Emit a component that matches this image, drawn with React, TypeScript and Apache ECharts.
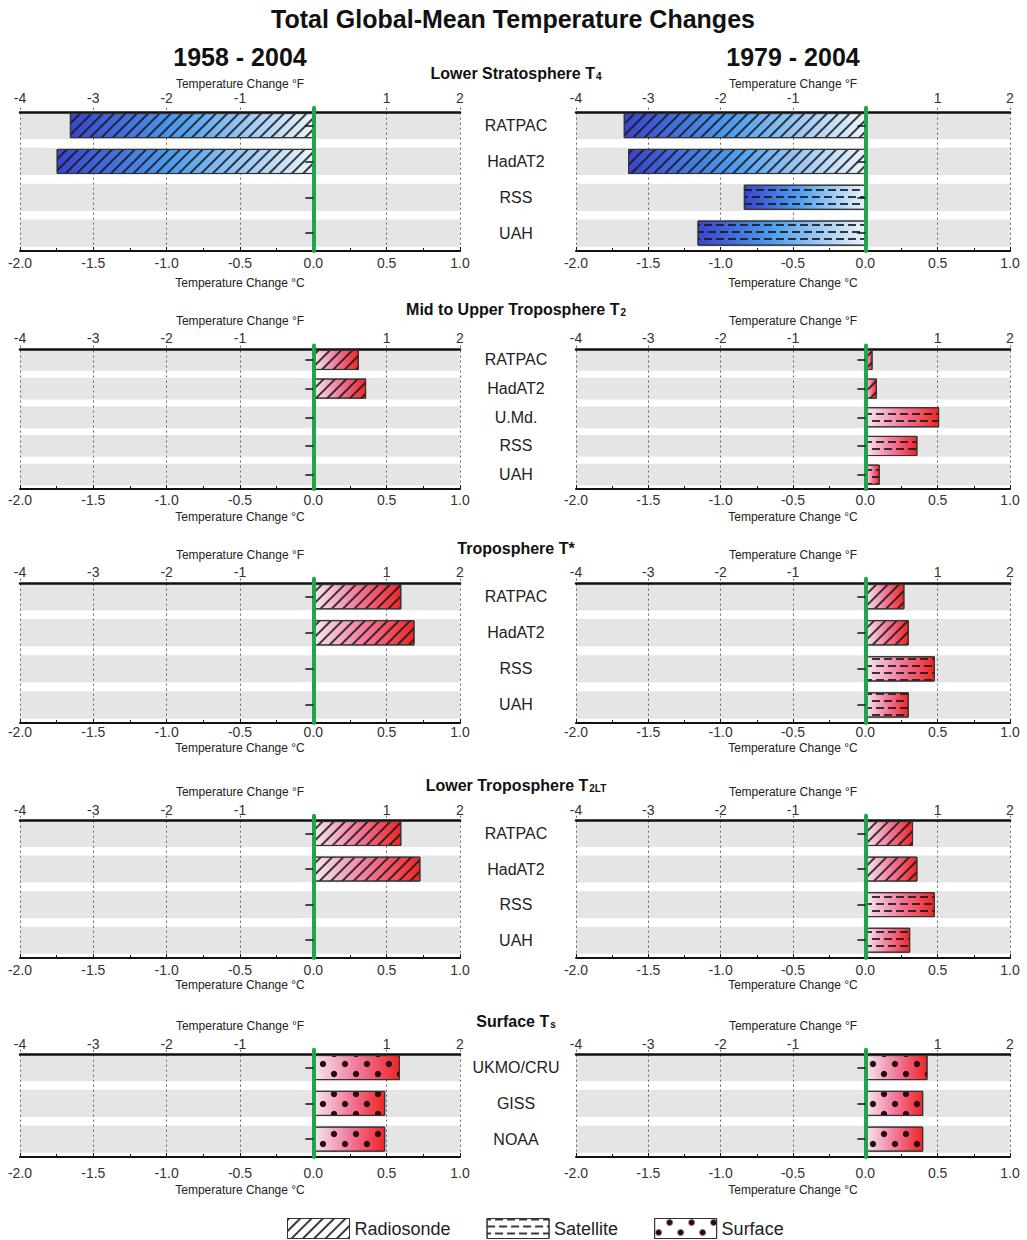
import React, { useEffect, useRef } from "react";
import * as echarts from "echarts";

// ---------- data ----------
const catsT4 = ["RATPAC", "HadAT2", "RSS", "UAH"];
const catsT2 = ["RATPAC", "HadAT2", "U.Md.", "RSS", "UAH"];
const catsTstar = ["RATPAC", "HadAT2", "RSS", "UAH"];
const catsT2LT = ["RATPAC", "HadAT2", "RSS", "UAH"];
const catsTs = ["UKMO/CRU", "GISS", "NOAA"];

const t4_1958 = [-1.66, -1.75, null, null];
const t4_1979 = [-1.67, -1.64, -0.84, -1.16];
const t2_1958 = [0.31, 0.36, null, null, null];
const t2_1979 = [0.05, 0.08, 0.51, 0.36, 0.1];
const tstar_1958 = [0.6, 0.69, null, null];
const tstar_1979 = [0.27, 0.3, 0.48, 0.3];
const t2lt_1958 = [0.6, 0.73, null, null];
const t2lt_1979 = [0.33, 0.36, 0.48, 0.31];
const ts_1958 = [0.59, 0.49, 0.49];
const ts_1979 = [0.43, 0.4, 0.4];

const sourceTypes = ["Radiosonde", "Satellite", "Surface"];
const sourceOf: Record<string, string> = {
  RATPAC: "Radiosonde",
  HadAT2: "Radiosonde",
  "U.Md.": "Satellite",
  RSS: "Satellite",
  UAH: "Satellite",
  "UKMO/CRU": "Surface",
  GISS: "Surface",
  NOAA: "Surface",
};

const mainTitle = "Total Global-Mean Temperature Changes";
const periods = ["1958 - 2004", "1979 - 2004"];
const rowTitles = [
  "Lower Stratosphere T{s|4}",
  "Mid to Upper Troposphere T{s|2}",
  "Troposphere T*",
  "Lower Troposphere T{s|2LT}",
  "Surface T{s|s}",
];
const rowCats = [catsT4, catsT2, catsTstar, catsT2LT, catsTs];
const rowValues = [
  [t4_1958, t4_1979],
  [t2_1958, t2_1979],
  [tstar_1958, tstar_1979],
  [t2lt_1958, t2lt_1979],
  [ts_1958, ts_1979],
];
const C_MIN = -2;
const C_MAX = 1;
const F_MIN = -4;
const F_MAX = 2;

// ---------- layout / style ----------
const FONT = "'Liberation Sans', Arial, Helvetica, sans-serif";
const rowLayout = [
  { top: 112, bottom: 251, titleY: 73, fMargin: 7, cMargin: 5, cGap: 26 },
  { top: 349, bottom: 489, titleY: 309, fMargin: 4, cMargin: 4, cGap: 22 },
  { top: 583, bottom: 723, titleY: 548, fMargin: 4, cMargin: 2, cGap: 19 },
  { top: 820, bottom: 958, titleY: 785, fMargin: 3, cMargin: 5, cGap: 21 },
  { top: 1054, bottom: 1157, titleY: 1021, fMargin: 3, cMargin: 9, cGap: 27 },
];
const colLayout = [
  { left: 20, right: 567 },
  { left: 576, right: 17 },
];
const LABEL_X = 516;
const BG_RATIO = 0.76;
const BAR_RATIO = 0.7;

const decals: Record<string, any> = {
  Radiosonde: {
    symbol: "rect",
    symbolSize: 1,
    dashArrayX: [1, 0],
    dashArrayY: [1.1, 6],
    rotation: -Math.PI / 4,
    color: "rgba(25,25,25,0.85)",
  },
  Satellite: {
    symbol: "rect",
    symbolSize: 1,
    dashArrayX: [
      [8, 4],
      [4, 4, 4, 0],
    ],
    dashArrayY: [1.2, 4.5],
    rotation: 0,
    color: "rgba(25,25,25,0.85)",
  },
  Surface: {
    symbol: "circle",
    symbolSize: 0.8,
    dashArrayX: [
      [8, 14],
      [0, 11, 8, 3],
    ],
    dashArrayY: [8, 2],
    rotation: 0,
    color: "#2a0a12",
  },
};

function barGradient(negative: boolean) {
  if (negative) {
    return new echarts.graphic.LinearGradient(0, 0, 1, 0, [
      { offset: 0, color: "#3a44cc" },
      { offset: 0.45, color: "#4d9ded" },
      { offset: 1, color: "#eaf3fb" },
    ]);
  }
  return new echarts.graphic.LinearGradient(0, 0, 1, 0, [
    { offset: 0, color: "#f6e8f0" },
    { offset: 0.5, color: "#f27b9c" },
    { offset: 1, color: "#ee2626" },
  ]);
}

function buildOption() {
  const grid: any[] = [];
  const xAxis: any[] = [];
  const yAxis: any[] = [];
  const series: any[] = [];
  const graphic: any[] = [];

  graphic.push({
    type: "text",
    x: 513,
    y: 19,
    style: {
      text: mainTitle,
      fontSize: 25,
      fontWeight: "bold",
      fontFamily: FONT,
      fill: "#111",
      align: "center",
      verticalAlign: "middle",
    },
  });
  const periodX = [240, 793];
  periods.forEach((p, i) => {
    graphic.push({
      type: "text",
      x: periodX[i],
      y: 57,
      style: {
        text: p,
        fontSize: 25,
        fontWeight: "bold",
        fontFamily: FONT,
        fill: "#111",
        align: "center",
        verticalAlign: "middle",
      },
    });
  });

  rowLayout.forEach((L, r) => {
    const cats = rowCats[r];
    const n = cats.length;
    const slot = (L.bottom - L.top) / (n - (1 - BG_RATIO) / 2);
    const off = ((1 - BG_RATIO) / 2) * slot;
    graphic.push({
      type: "text",
      x: LABEL_X,
      y: L.titleY,
      style: {
        text: rowTitles[r],
        fontSize: 16,
        fontWeight: "bold",
        fontFamily: FONT,
        fill: "#111",
        align: "center",
        verticalAlign: "middle",
        rich: {
          s: {
            fontSize: 10,
            fontWeight: "bold",
            fontFamily: FONT,
            fill: "#111",
            lineHeight: 2,
            verticalAlign: "bottom",
            padding: [0, 0, 0, 1],
          },
        },
      },
    });

    [0, 1].forEach((c) => {
      const gi = grid.length;
      grid.push({
        left: colLayout[c].left,
        right: colLayout[c].right,
        top: L.top - off,
        height: L.bottom - (L.top - off),
        show: false,
      });
      const xC = xAxis.length;
      xAxis.push({
        gridIndex: gi,
        type: "value",
        position: "bottom",
        min: C_MIN,
        max: C_MAX,
        interval: 0.5,
        axisLine: { show: true, onZero: false, lineStyle: { color: "#111", width: 2 } },
        axisTick: { show: true, inside: true, length: 4, lineStyle: { color: "#111", width: 1 } },
        minorTick: { show: true, splitNumber: 2, length: 3, lineStyle: { color: "#111", width: 1 } },
        axisLabel: {
          formatter: (v: number) => v.toFixed(1),
          margin: L.cMargin,
          fontSize: 14,
          color: "#333",
          fontFamily: FONT,
        },
        splitLine: { show: true, lineStyle: { type: [2, 3], color: "#666", width: 1 } },
        name: "Temperature Change °C",
        nameLocation: "middle",
        nameGap: L.cGap,
        nameTextStyle: { fontSize: 12, color: "#222", fontFamily: FONT },
      });
      xAxis.push({
        gridIndex: gi,
        type: "value",
        position: "top",
        offset: -off,
        min: F_MIN,
        max: F_MAX,
        interval: 1,
        axisLine: { show: true, onZero: false, lineStyle: { color: "#111", width: 2.5 } },
        axisTick: { show: false },
        splitLine: { show: false },
        axisLabel: {
          formatter: (v: number) => (v === 0 ? "" : String(v)),
          margin: L.fMargin,
          fontSize: 14,
          color: "#333",
          fontFamily: FONT,
        },
        name: "Temperature Change °F",
        nameLocation: "middle",
        nameGap: 22,
        nameTextStyle: { fontSize: 12, color: "#222", fontFamily: FONT },
      });
      const yZ = yAxis.length;
      yAxis.push({
        gridIndex: gi,
        type: "category",
        data: cats,
        inverse: true,
        position: "left",
        z: 5,
        axisLine: { show: true, onZero: true, lineStyle: { color: "#1fa64a", width: 4 } },
        axisTick: { show: true, alignWithLabel: true, length: 8, lineStyle: { color: "#111", width: 1.5 } },
        axisLabel: { show: false },
        splitLine: { show: false },
        splitArea: { show: false },
      });
      if (c === 1) {
        yAxis.push({
          gridIndex: gi,
          type: "category",
          data: cats,
          inverse: true,
          position: "left",
          axisLine: { show: false, onZero: false },
          axisTick: { show: false },
          splitLine: { show: false },
          axisLabel: {
            show: true,
            margin: colLayout[1].left - LABEL_X,
            align: "center",
            fontSize: 16,
            color: "#222",
            fontFamily: FONT,
          },
        });
      }

      // background bands
      series.push({
        type: "custom",
        xAxisIndex: xC,
        yAxisIndex: yZ,
        z: -1,
        silent: true,
        encode: { x: 0, y: 1 },
        data: cats.map((_, i) => [C_MAX, i]),
        renderItem: (_p: any, api: any) => {
          const idx = api.value(1);
          const a = api.coord([C_MIN, idx]);
          const b = api.coord([C_MAX, idx]);
          const h = api.size([0, 1])[1] * BG_RATIO;
          return {
            type: "rect",
            shape: { x: a[0], y: a[1] - h / 2, width: b[0] - a[0], height: h },
            style: { fill: "#e5e5e5" },
          };
        },
      });

      const vals = rowValues[r][c];
      sourceTypes.forEach((T) => {
        series.push({
          type: "bar",
          name: T,
          xAxisIndex: xC,
          yAxisIndex: yZ,
          stack: "p" + gi,
          barWidth: BAR_RATIO * 100 + "%",
          itemStyle: { borderColor: "#333", borderWidth: 1, decal: decals[T] },
          data: vals.map((v, i) =>
            sourceOf[cats[i]] === T && v != null
              ? { value: v, itemStyle: { color: barGradient(v < 0) } }
              : "-"
          ),
        });
      });
    });
  });

  return {
    animation: false,
    backgroundColor: "#ffffff",
    textStyle: { fontFamily: FONT },
    grid,
    xAxis,
    yAxis,
    series,
    graphic,
    legend: {
      data: sourceTypes,
      left: 282,
      top: 1213,
      icon: "rect",
      itemWidth: 62,
      itemHeight: 20,
      itemGap: 36,
      selectedMode: false,
      textStyle: { fontSize: 18, color: "#222", fontFamily: FONT },
      itemStyle: { color: "#ffffff", borderColor: "#333", borderWidth: 1 },
    },
  };
}

export default function App() {
  const ref = useRef<HTMLDivElement>(null);
  useEffect(() => {
    if (!ref.current) return;
    const chart = echarts.init(ref.current, undefined, { renderer: "svg" });
    chart.setOption(buildOption() as any);
    return () => chart.dispose();
  }, []);
  return (
    <div
      ref={ref}
      style={{ position: "absolute", left: 0, top: 0, width: 1027, height: 1240 }}
    />
  );
}
